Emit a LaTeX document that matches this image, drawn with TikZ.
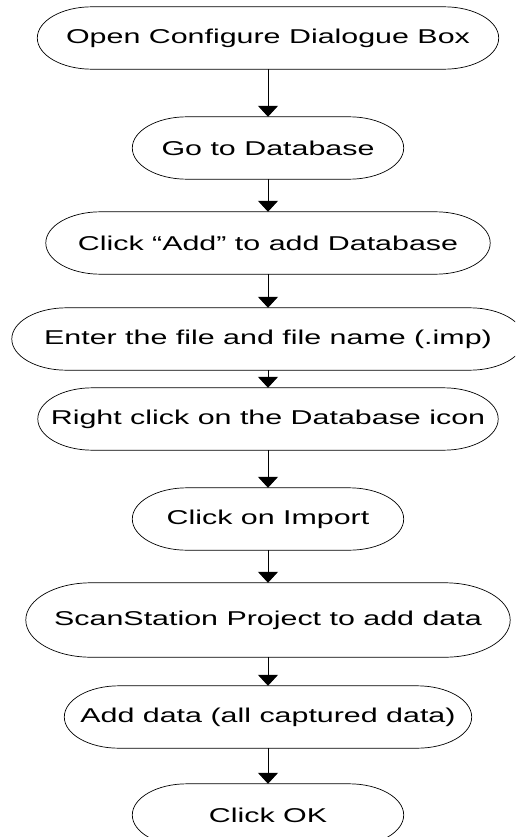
\documentclass[tikz,border=0pt]{standalone}
\usepackage{fontspec}
\setmainfont[FakeStretch=1.52]{Liberation Sans}
\usetikzlibrary{arrows.meta,calc}
\tikzset{
  stepnode/.style={minimum width=#1, minimum height=62, inner sep=0pt,
                   font=\fontsize{20}{24}\selectfont},
  flow/.style={line width=0.8pt, -{Triangle[width=20pt,length=11pt]}},
}

\begin{document}
\begin{tikzpicture}[x=1pt, y=-1pt]
\clip (0,0) rectangle (515,837);

% The steps, top to bottom
\node[stepnode=461] (open)       at (268,38)  {Open Configure Dialogue Box};
\node[stepnode=271] (gotodb)     at (268,148) {Go to Database};
\node[stepnode=444] (adddb)      at (268,243) {Click “Add” to add Database};
\node[stepnode=512] (enterfile)  at (268,339) {Enter the file and file name (.imp)};
\node[stepnode=460] (rightclick) at (268,419) {Right click on the Database icon};
\node[stepnode=271] (import)     at (268,519) {Click on Import};
\node[stepnode=484, minimum height=74] (project) at (268,620) {ScanStation Project to add data};
\node[stepnode=407] (adddata)    at (268,717) {Add data (all captured data)};
\node[stepnode=271] (clickok)    at (268,815) {Click OK};

% Terminator outlines with elliptic ends
\foreach \nd in {open,gotodb,adddb,enterfile,rightclick,import,project,adddata,clickok}{
  \draw[line width=0.7pt] let \p1=(\nd.north west), \p2=(\nd.south east),
      \n1={0.5*(\y1-\y2)}, \n2={1.75*\n1} in
    (\x1+\n2,\y1) -- (\x2-\n2,\y1)
    arc[start angle=90, end angle=-90, x radius=\n2, y radius=\n1]
    -- (\x1+\n2,\y2)
    arc[start angle=270, end angle=90, x radius=\n2, y radius=\n1] -- cycle;
}

% Connectors
\foreach \a/\b in {open/gotodb,gotodb/adddb,adddb/enterfile,enterfile/rightclick,
                   rightclick/import,import/project,project/adddata,adddata/clickok}
  \draw[flow] (\a.south) -- (\b.north);
\end{tikzpicture}
\end{document}
